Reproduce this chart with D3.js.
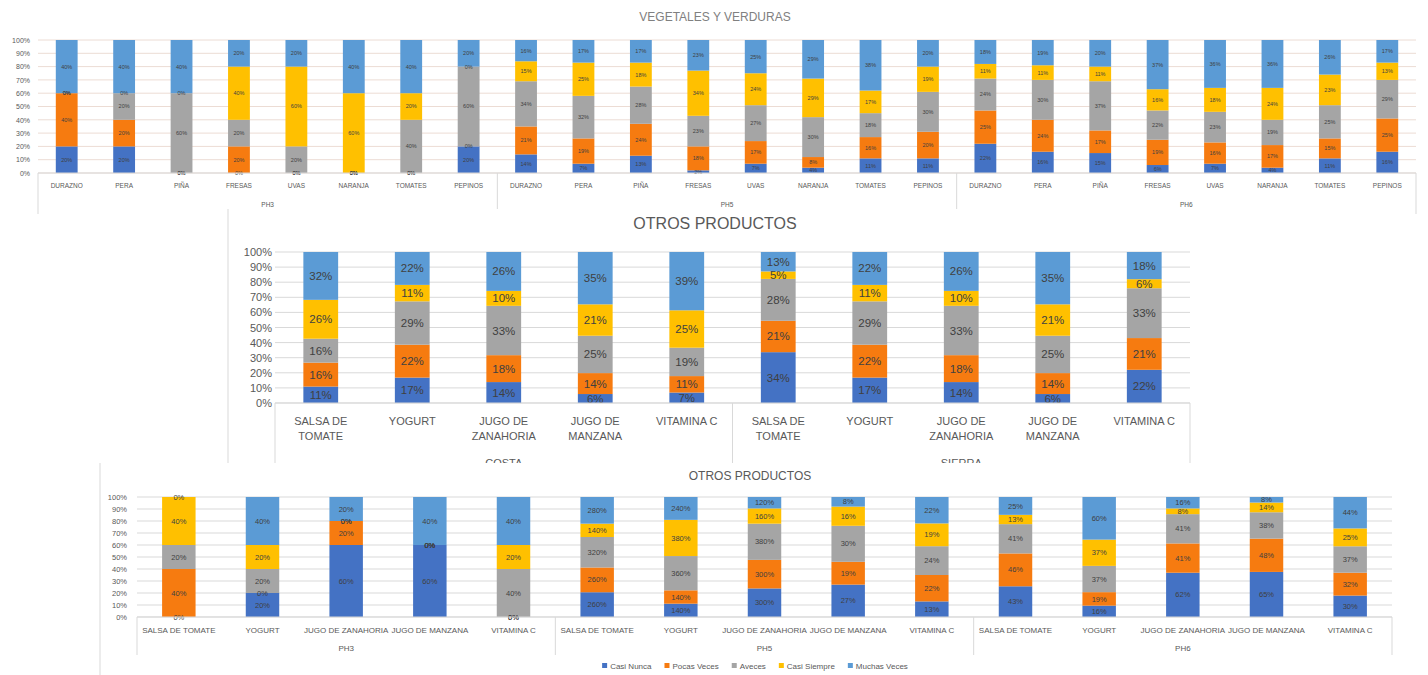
<!DOCTYPE html>
<html>
<head>
<meta charset="utf-8">
<script src="https://cdn.jsdelivr.net/npm/d3@7"></script>
<style>
  body { margin: 0; background: #fff; }
  svg { display: block; font-family: "Liberation Sans", Arial, sans-serif; }
</style>
</head>
<body>
<svg id="chart" width="1428" height="675"></svg>
<script>
// series shared by all three charts
const series = ["Casi Nunca", "Pocas Veces", "Aveces", "Casi Siempre", "Muchas Veces"];
const colors = ["#4472C4", "#F67B10", "#A5A5A5", "#FFC000", "#5B9BD5"];

// VEGETALES Y VERDURAS
const vegGroups = ["PH3", "PH5", "PH6"];
const vegItems = ["DURAZNO", "PERA", "PIÑA", "FRESAS", "UVAS", "NARANJA", "TOMATES", "PEPINOS"];
const vegValues = [
  [20, 40, 0, 0, 40], [20, 20, 20, 0, 40], [0, 0, 60, 0, 40], [0, 20, 20, 40, 20],
  [0, 0, 20, 60, 20], [0, 0, 0, 60, 40], [0, 0, 40, 20, 40], [20, 0, 60, 0, 20],
  [14, 21, 34, 15, 16], [7, 19, 32, 25, 17], [13, 24, 28, 18, 17], [2, 18, 23, 34, 23],
  [7, 17, 27, 24, 25], [4, 8, 30, 29, 29], [11, 16, 18, 17, 38], [11, 20, 30, 19, 20],
  [22, 25, 24, 11, 18], [16, 24, 30, 11, 19], [15, 17, 37, 11, 20], [6, 19, 22, 16, 37],
  [7, 16, 23, 18, 36], [4, 17, 19, 24, 36], [11, 15, 25, 23, 26], [16, 25, 29, 13, 17]
];

// OTROS PRODUCTOS (costa / sierra)
const regionGroups = ["COSTA", "SIERRA"];
const productItems = ["SALSA DE TOMATE", "YOGURT", "JUGO DE ZANAHORIA", "JUGO DE MANZANA", "VITAMINA C"];
const regionValues = [
  [11, 16, 16, 26, 32], [17, 22, 29, 11, 22], [14, 18, 33, 10, 26], [6, 14, 25, 21, 35], [7, 11, 19, 25, 39],
  [34, 21, 28, 5, 13], [17, 22, 29, 11, 22], [14, 18, 33, 10, 26], [6, 14, 25, 21, 35], [22, 21, 33, 6, 18]
];

// OTROS PRODUCTOS (PH3 / PH5 / PH6)
const phGroups = ["PH3", "PH5", "PH6"];
const phValues = [
  [0, 40, 20, 40, 0], [20, 0, 20, 20, 40], [60, 20, 0, 0, 20], [60, 0, 0, 0, 40], [0, 0, 40, 20, 40],
  [260, 260, 320, 140, 280], [140, 140, 360, 380, 240], [300, 300, 380, 160, 120], [27, 19, 30, 16, 8], [13, 22, 24, 19, 22],
  [43, 46, 41, 13, 25], [16, 19, 37, 37, 60], [62, 41, 41, 8, 16], [65, 48, 38, 14, 8], [30, 32, 37, 25, 44]
];

const svg = d3.select("#chart");

function wrapWords(s, maxChars) {
  if (!maxChars) return [s];
  const lines = [];
  let cur = "";
  s.split(" ").forEach(w => {
    const t = cur ? cur + " " + w : w;
    if (t.length > maxChars && cur) { lines.push(cur); cur = w; } else cur = t;
  });
  lines.push(cur);
  return lines;
}

function drawStack(g, c) {
  const n = c.values.length;
  const x = d3.scaleBand().domain(d3.range(n)).range([c.left, c.right])
    .paddingInner(c.pad).paddingOuter(c.pad / 2);
  const y = d3.scaleLinear().domain([0, 1]).range([c.bottom, c.top]);

  // grid
  g.append("g").selectAll("line").data(y.ticks(10)).join("line")
    .attr("x1", c.left).attr("x2", c.right)
    .attr("y1", d => y(d)).attr("y2", d => y(d))
    .attr("stroke", c.grid).attr("stroke-width", 1);

  // y axis
  const ya = g.append("g")
    .attr("transform", `translate(${c.left - c.tickGap},0)`)
    .call(d3.axisLeft(y).ticks(10, ".0%").tickSize(0).tickPadding(0));
  ya.select(".domain").remove();
  ya.attr("font-family", null).attr("font-size", c.tickFont);
  ya.selectAll("text").attr("fill", "#595959");

  const stacked = d3.stack().keys(d3.range(series.length)).offset(d3.stackOffsetExpand)(c.values);

  // bars
  stacked.forEach((layer, si) => {
    g.append("g").selectAll("rect").data(layer).join("rect")
      .attr("x", (d, i) => x(i))
      .attr("width", x.bandwidth())
      .attr("y", d => y(d[1]))
      .attr("height", d => y(d[0]) - y(d[1]))
      .attr("fill", colors[si]);
  });

  // data labels
  stacked.forEach((layer, si) => {
    g.append("g").selectAll("text").data(layer).join("text")
      .attr("x", (d, i) => x(i) + x.bandwidth() / 2)
      .attr("y", d => y((d[0] + d[1]) / 2))
      .attr("dy", "0.35em")
      .attr("text-anchor", "middle")
      .attr("font-size", c.labelFont)
      .attr("fill", "#404040")
      .text(d => d.data[si] + "%");
  });

  // category axis
  g.append("line")
    .attr("x1", c.left).attr("x2", c.right)
    .attr("y1", y(0)).attr("y2", y(0))
    .attr("stroke", c.frame);

  const cats = g.append("g").selectAll("text").data(d3.range(n)).join("text")
    .attr("x", i => x(i) + x.bandwidth() / 2)
    .attr("y", c.catY)
    .attr("text-anchor", "middle")
    .attr("font-size", c.catFont)
    .attr("fill", "#595959");
  cats.each(function (i) {
    const lines = wrapWords(c.items[i % c.items.length], c.wrap);
    d3.select(this).selectAll("tspan").data(lines).join("tspan")
      .attr("x", x(i) + x.bandwidth() / 2)
      .attr("dy", (d, k) => k === 0 ? 0 : c.lineH)
      .text(d => d);
  });

  const gw = (c.right - c.left) / c.groups.length;
  g.append("g").selectAll("line").data(d3.range(c.groups.length + 1)).join("line")
    .attr("x1", k => c.left + k * gw).attr("x2", k => c.left + k * gw)
    .attr("y1", y(0)).attr("y2", c.frameBottom)
    .attr("stroke", c.frame);

  g.append("g").selectAll("text").data(c.groups).join("text")
    .attr("x", (d, k) => c.left + (k + 0.5) * gw)
    .attr("y", c.groupY)
    .attr("text-anchor", "middle")
    .attr("font-size", c.groupFont)
    .attr("fill", "#595959")
    .text(d => d);
}

// ---- top chart
const vegChart = svg.append("g");
vegChart.append("text").attr("x", 715).attr("y", 21).attr("text-anchor", "middle")
  .attr("font-size", 12).attr("fill", "#808080").text("VEGETALES Y VERDURAS");
drawStack(vegChart, {
  values: vegValues, items: vegItems, groups: vegGroups,
  left: 38, right: 1416, top: 40, bottom: 173, pad: 0.62,
  grid: "#ecdcd4", frame: "#d9d9d9", tickGap: 8, tickFont: 7,
  labelFont: 5.5, catFont: 6.5, catY: 188, lineH: 8, groupFont: 6.5, groupY: 207, frameBottom: 214
});

// ---- middle chart (white panel laid over the top chart)
const regionChart = svg.append("g");
regionChart.append("rect").attr("x", 228).attr("y", 209).attr("width", 975).attr("height", 260)
  .attr("fill", "#fff");
regionChart.append("line").attr("x1", 228).attr("x2", 228).attr("y1", 209).attr("y2", 469)
  .attr("stroke", "#d9d9d9");
regionChart.append("text").attr("x", 715).attr("y", 229).attr("text-anchor", "middle")
  .attr("font-size", 16).attr("fill", "#595959").text("OTROS PRODUCTOS");
drawStack(regionChart, {
  values: regionValues, items: productItems, groups: regionGroups,
  left: 275, right: 1190, top: 252, bottom: 403, pad: 0.62,
  grid: "#d9d9d9", frame: "#d9d9d9", tickGap: 3, tickFont: 11,
  labelFont: 11.5, catFont: 11, catY: 425, lineH: 15, wrap: 10, groupFont: 11, groupY: 467, frameBottom: 470
});

// ---- bottom chart
const phChart = svg.append("g");
phChart.append("rect").attr("x", 100).attr("y", 463).attr("width", 1300).attr("height", 215)
  .attr("fill", "#fff");
phChart.append("line").attr("x1", 100).attr("x2", 100).attr("y1", 463).attr("y2", 675)
  .attr("stroke", "#d9d9d9");
phChart.append("text").attr("x", 750).attr("y", 480).attr("text-anchor", "middle")
  .attr("font-size", 12).attr("fill", "#595959").text("OTROS PRODUCTOS");
drawStack(phChart, {
  values: phValues, items: productItems, groups: phGroups,
  left: 137, right: 1392, top: 497, bottom: 617, pad: 0.6,
  grid: "#d9d9d9", frame: "#d9d9d9", tickGap: 10, tickFont: 7.5,
  labelFont: 7.5, catFont: 8, catY: 633, lineH: 10, groupFont: 8, groupY: 651, frameBottom: 655
});

// legend
const legend = phChart.append("g").attr("font-size", 8).attr("fill", "#595959");
let lx = 0;
series.forEach((s, i) => {
  const it = legend.append("g");
  it.append("rect").attr("x", 0).attr("y", -3).attr("width", 5).attr("height", 5).attr("fill", colors[i]);
  const t = it.append("text").attr("x", 8).attr("y", 0).attr("dy", "0.33em").text(s);
  const w = 8 + t.node().getComputedTextLength();
  it.attr("transform", `translate(${lx},0)`);
  lx += w + 13;
});
const legendW = lx - 13;
legend.attr("transform", `translate(${755 - legendW / 2},666)`);
</script>
</body>
</html>
